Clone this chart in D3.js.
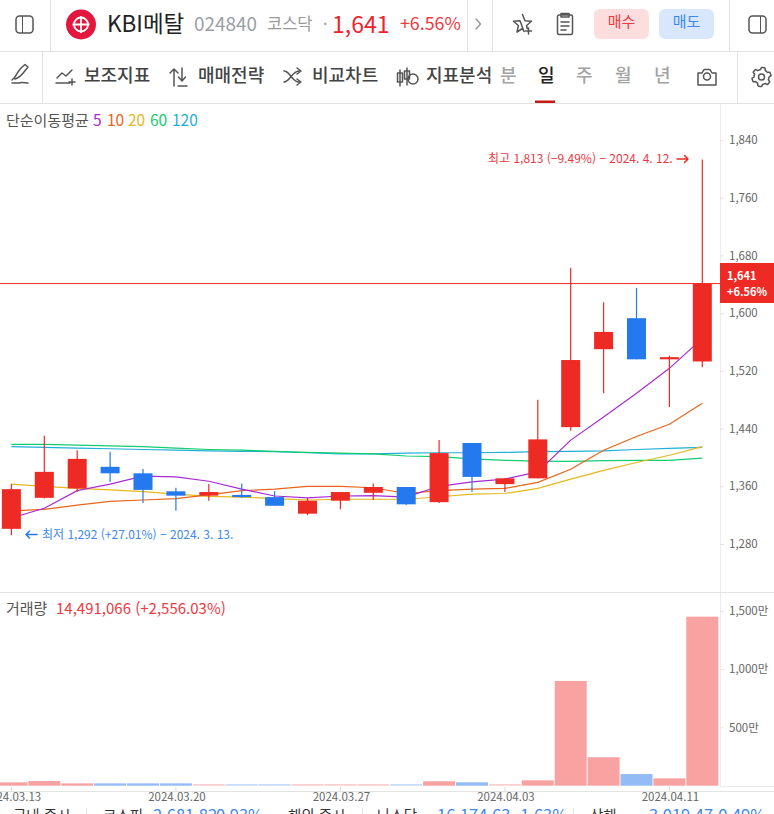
<!DOCTYPE html>
<html lang="ko">
<head>
    <meta charset="UTF-8">
    <title>KBI메탈 일봉</title>
    <script src="https://d3js.org/d3.v7.min.js"></script>
    <style>
        html, body { margin: 0; padding: 0; background: #fff; overflow: hidden; }
        svg { display: block; }
        text { font-family: "Noto Sans CJK KR", "Noto Sans", sans-serif; }
        .icon { fill: none; stroke: #555; stroke-width: 1.5; stroke-linecap: round; stroke-linejoin: round; }
    </style>
</head>
<body>
    <svg id="canvas" width="774" height="814"></svg>
    <script>
        // chart data
        const dates = ['2024.03.13','2024.03.14','2024.03.15','2024.03.18','2024.03.19','2024.03.20','2024.03.21','2024.03.22',
            '2024.03.25','2024.03.26','2024.03.27','2024.03.28','2024.03.29','2024.04.01','2024.04.02','2024.04.03',
            '2024.04.04','2024.04.05','2024.04.08','2024.04.09','2024.04.11','2024.04.12'];
        const opens  = [1301,1344,1357,1387,1378,1353,1347,1348,1345,1322,1340,1351,1359,1338,1420,1363,1371,1442,1550,1593,1536,1533];
        const closes = [1356,1380,1398,1378,1355,1347,1352,1345,1333,1340,1352,1359,1335,1406,1373,1371,1425,1535,1574,1536,1539,1641];
        const highs  = [1363,1430,1410,1408,1384,1358,1363,1364,1353,1344,1352,1364,1359,1424,1420,1371,1480,1663,1615,1635,1541,1813];
        const lows   = [1292,1343,1352,1366,1337,1326,1340,1344,1333,1320,1328,1341,1334,1337,1352,1352,1371,1437,1489,1536,1470,1525];
        const volumes = [29,40,20,20,20,20,14,14,14,14,14,14,14,38,29,14,46,898,244,100,63,1449]; // 단위: 만

        const ma5   = [1316,1329.5,1354,1363,1374,1373,1367,1356,1346.5,1344,1346.5,1347,1345,1360,1366,1370,1380,1424,1456,1489,1523.5,1565];
        const ma10  = [1326,1328,1334,1339,1341,1343,1348,1354,1356,1360,1360,1358,1350,1354,1356,1357,1365.5,1383.5,1410,1429,1446,1475];
        const ma20  = [1363,1360,1357,1355,1352.5,1349,1346,1345,1343,1341,1342,1342,1342,1345.5,1349,1350,1357,1370,1382,1393,1403,1415];
        const ma60  = [1418,1418,1417,1416,1415,1413,1411,1410,1408.5,1407,1406,1405,1402,1401,1398,1396,1395,1394.5,1395.5,1396,1396,1399];
        const ma120 = [1415,1414,1413,1412,1411,1410,1409,1408.5,1408,1406.5,1405,1405,1406,1406.5,1406.5,1407,1408,1408.5,1409,1411,1412.5,1414];

        const priceTicks = [1280,1360,1440,1520,1600,1680,1760,1840];
        const volumeTicks = [500,1000,1500];
        const dateTicks = ['2024.03.13','2024.03.20','2024.03.27','2024.04.03','2024.04.11'];
        const lastPrice = 1641;

        const RED = '#ee2a24', BLUE = '#2579ee', GREY = '#666';
        const maColors = ['#a92bd6','#e8651a','#e6b81e','#14cc70','#1fb0d6'];

        let svg = d3.select('#canvas');

        let x = d3.scaleBand().domain(dates).range([-5.05, 718.75]);
        let y = d3.scaleLinear().domain([1280,1840]).range([544,140]);
        let yVol = d3.scaleLinear().domain([0,1500]).range([785.7,610.7]);
        let cx = d => x(d) + x.bandwidth()/2;

        // grey frame lines
        function hline(y0, x0, x1, c){ svg.append('line').attr('x1',x0).attr('x2',x1).attr('y1',y0).attr('y2',y0).attr('stroke',c||'#e3e3e3'); }
        function vline(x0, y0, y1, c){ svg.append('line').attr('x1',x0).attr('x2',x0).attr('y1',y0).attr('y2',y1).attr('stroke',c||'#e3e3e3'); }
        function label(s, px, py, size, fill, anchor, weight){
            return svg.append('text').attr('x',px).attr('y',py).attr('font-size',size).attr('fill',fill)
                .attr('text-anchor',anchor||'start').attr('font-weight',weight||400).text(s);
        }
        function icon(d, tx, ty, stroke){
            return svg.append('path').attr('class','icon').attr('d',d).attr('transform','translate('+tx+','+ty+')').style('stroke',stroke||'#555');
        }

        // ---- header ----
        hline(51.5,0,774); hline(103.5,0,774);
        vline(50.5,0,51); vline(467.5,0,51); vline(492.5,0,51); vline(729.5,0,51);
        vline(42.5,52,103); vline(737.5,52,103);

        svg.append('rect').attr('x',16).attr('y',16).attr('width',17).attr('height',17).attr('rx',3.5).attr('class','icon');
        vline(22.5,16,33,'#555');
        svg.append('circle').attr('cx',81).attr('cy',24.5).attr('r',15).attr('fill','#e3173e');
        svg.append('circle').attr('cx',81).attr('cy',24.5).attr('r',7).attr('fill','none').attr('stroke','#fff').attr('stroke-width',1.8);
        svg.append('path').attr('d','M81 16V33M72.5 24.5H89.5').attr('stroke','#fff').attr('stroke-width',1.8);

        label('KBI메탈',107,32,22.5,'#222');
        label('024840',194,31,18.9,'#9aa0a6');
        label('코스닥',267,30,16.5,'#9a9a9a');
        label('·',323,30,16,'#9a9a9a');
        label('1,641',332,33,23,'#f0222a');
        label('+6.56%',400,30,17.8,'#f0393f');
        icon('M0 0L4.5 5L0 10',476,19,'#999');
        icon('M9.5 0L12 6.2L18.5 6.8L13.6 11L14.2 14M11 17L9.5 14L4 17.5L5.4 11L0.5 6.8L7 6.2ZM15.5 13.5V19.5M12.5 16.5H18.5',513,14.5);
        icon('M3 3H15A1.5 1.5 0 0 1 16.5 4.5V21A1.5 1.5 0 0 1 15 22.5H3A1.5 1.5 0 0 1 1.5 21V4.5A1.5 1.5 0 0 1 3 3M5 1.5H13V5H5ZM5 10H13M5 14H13M5 18H10',556,12);

        svg.append('rect').attr('x',594).attr('y',9).attr('width',55).attr('height',30).attr('rx',6).attr('fill','#fdddde');
        label('매수',621.5,27,15,'#f0393f','middle');
        svg.append('rect').attr('x',659).attr('y',9).attr('width',55).attr('height',30).attr('rx',6).attr('fill','#d9e7fc');
        label('매도',686.5,27,15,'#3d87f0','middle');
        svg.append('rect').attr('x',749).attr('y',16).attr('width',17).attr('height',17).attr('rx',3.5).attr('class','icon');
        vline(760.5,16,33,'#555');

        // ---- toolbar ----
        icon('M3 18C8 14 6 13 12 6L16 2.5L19 5L15 10C12 14 9 16 6 17M3 21H10C13 20 16 21 19 21',9,62);
        icon('M1 10L6 5L10 8L16 2M0 15H14M16 11V17M13 14H19',56,68);
        label('보조지표',84,82,18,'#444',null,500);
        icon('M5 3V20M1 7L5 3L9 7M13 2V14M9.5 11L13 15L16.5 11M9 20H18',169,66);
        label('매매전략',198,82,18,'#444',null,500);
        icon('M0 4C6 4 8 15 15 15M0 15C6 15 8 4 15 4M13 1L17 4L13 7M13 12L17 15L13 18',284,67);
        label('비교차트',312,82,18,'#444',null,500);
        icon('M3 3V19M0.5 6H5.5V15H0.5ZM10 1V18M7.5 4H12.5V12H7.5Z',397,67);
        svg.append('circle').attr('cx',413).attr('cy',79).attr('r',5).attr('class','icon');
        label('지표분석',426,82,18,'#444',null,500);
        label('분',500,82,18,'#a3a3a3',null,500);
        label('일',538,82,18,'#222',null,500);
        label('주',576,82,18,'#a3a3a3',null,500);
        label('월',615,82,18,'#a3a3a3',null,500);
        label('년',654,82,18,'#a3a3a3',null,500);
        svg.append('rect').attr('x',535).attr('y',100.5).attr('width',20).attr('height',2.5).attr('fill','#c81a1a');
        icon('M1 6H5L7 2.5H13L15 6H19V18H1Z',697,67);
        svg.append('circle').attr('cx',707).attr('cy',76.5).attr('r',3.5).attr('class','icon');
        // gear outline
        let gearR = d3.range(48).map(i => (Math.floor(i/4) % 2 === 0) ? 9.5 : 7.5);
        icon(d3.lineRadial().angle((d,i) => i/48*2*Math.PI).radius(d => d).curve(d3.curveCardinalClosed)(gearR),761.5,77);
        svg.append('circle').attr('cx',761.5).attr('cy',77).attr('r',3).attr('class','icon');

        // ---- legends ----
        label('단순이동평균',6,126,15,'#555');
        [['5',93],['10',107],['20',128],['60',150],['120',172]].forEach(function(d,i){
            label(d[0],d[1],126,15.5,maColors[i]);
        });
        label('거래량',6,613.5,15,'#555');
        label('14,491,066 (+2,556.03%)',56,613.5,15,'#f0393f');

        // ---- axis lines ----
        vline(720.5,104,786,'#ececec');
        hline(592.5,0,774);
        hline(786.5,720,774,'#ececec');
        hline(791.5,0,774);

        // ---- moving averages, under the candles ----
        let maLine = d3.line().x((d,i) => cx(dates[i])).y(d => y(d));
        [ma120,ma60,ma20,ma10,ma5].forEach(function(s,i){
            svg.append('path').attr('d',maLine(s)).attr('fill','none')
                .attr('stroke',maColors[4-i]).attr('stroke-width',1.2);
        });

        // ---- last price line ----
        hline(y(lastPrice),0,720,RED);

        // ---- candles ----
        let idx = d3.range(dates.length);
        let color = i => closes[i] >= opens[i] ? RED : BLUE;
        let candles = svg.append('g');
        candles.selectAll('line').data(idx).enter().append('line')
            .attr('x1',i => cx(dates[i])).attr('x2',i => cx(dates[i]))
            .attr('y1',i => y(highs[i])).attr('y2',i => y(lows[i]))
            .attr('stroke',color).attr('stroke-width',1.2);
        candles.selectAll('rect').data(idx).enter().append('rect')
            .attr('x',i => cx(dates[i]) - 9.5).attr('width',19)
            .attr('y',i => y(Math.max(opens[i],closes[i])))
            .attr('height',i => Math.max(1.5, Math.abs(y(opens[i]) - y(closes[i]))))
            .attr('fill',color);

        // ---- volume bars ----
        svg.append('g').selectAll('rect').data(idx).enter().append('rect')
            .attr('x',i => cx(dates[i]) - 16).attr('width',32)
            .attr('y',i => yVol(volumes[i]))
            .attr('height',i => yVol(0) - yVol(volumes[i]))
            .attr('fill',i => color(i) === RED ? '#f8a2a2' : '#93bcf7')
            .attr('fill-opacity',i => volumes[i] < 15 ? .55 : 1);

        // ---- price and volume axes ----
        let yAxis = d3.axisRight(y).tickValues(priceTicks).tickSize(4).tickPadding(5).tickFormat(d3.format(','));
        let gy = svg.append('g').attr('transform','translate(720,0)').call(yAxis);
        let yVolAxis = d3.axisRight(yVol).tickValues(volumeTicks).tickSize(4).tickPadding(5).tickFormat(d => d3.format(',')(d) + '만');
        let gv = svg.append('g').attr('transform','translate(720,0)').call(yVolAxis);
        [gy,gv].forEach(function(g){
            g.select('.domain').remove();
            g.selectAll('.tick line').attr('stroke','#e3e3e3');
            g.selectAll('.tick text').attr('font-size',11.5).attr('fill',GREY)
                .style('font-family','"Noto Sans CJK KR", sans-serif');
        });

        // ---- date axis ----
        let xAxis = d3.axisBottom(x).tickValues(dateTicks).tickSize(-4).tickPadding(4);
        let gx = svg.append('g').attr('transform','translate(0,791)').call(xAxis);
        gx.select('.domain').remove();
        gx.selectAll('.tick line').attr('stroke','#dcdcdc');
        gx.selectAll('.tick text').attr('font-size',11.5).attr('fill',GREY).attr('dy','.55em').attr('dx',1)
            .style('font-family','"Noto Sans CJK KR", sans-serif');

        // ---- high / low callouts ----
        label('최고 1,813 (−9.49%) − 2024. 4. 12.',488,163,12,'#f0393f');
        icon('M0 4.5H11M7.5 1L11 4.5L7.5 8',677,154.5,RED);
        icon('M11 4.5H0M3.5 1L0 4.5L3.5 8',26,530,BLUE);
        label('최저 1,292 (+27.01%) − 2024. 3. 13.',42,539,12,'#3d87f0');

        // ---- current price tag ----
        svg.append('rect').attr('x',720).attr('y',263).attr('width',54).attr('height',40).attr('fill',RED);
        label('1,641',727,279.5,11,'#fff',null,700);
        label('+6.56%',727,295.5,11,'#fff',null,700);

        // ---- market ticker, cut by the window ----
        const tickerLabels = [['국내 증시',13],['코스피',103],['해외 증시',288],['나스닥',377],['상해',590]];
        const tickerValues = [['2,681.82',153],['0.93%',216],['16,174.63',437],['−1.63%',511],['3,019.47',649],['−0.49%',709]];
        tickerLabels.forEach(d => label(d[0],d[1],821,14.5,'#333'));
        tickerValues.forEach(d => label(d[0],d[1],821,16.5,'#3d87f0'));
        vline(86.5,808,814); vline(362.5,808,814); vline(573.5,808,814);
    </script>
</body>
</html>
